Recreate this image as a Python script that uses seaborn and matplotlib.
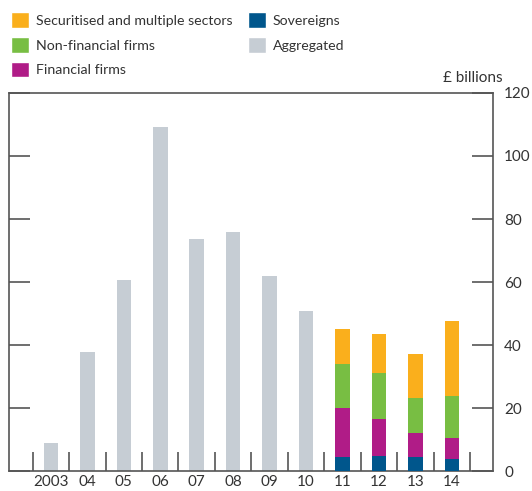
import numpy as np
import pandas as pd
import matplotlib
matplotlib.use("Agg")
import matplotlib.pyplot as plt
from matplotlib.patches import Patch
import seaborn as sns

# Years shown on the x axis
years = ["2003", "04", "05", "06", "07", "08", "09", "10", "11", "12", "13", "14"]

# Aggregated issuance (£ billions), 2003-2010
aggregated = [8.9, 37.8, 60.6, 109.2, 73.7, 75.9, 61.9, 50.8, np.nan, np.nan, np.nan, np.nan]

# Sector breakdown (£ billions), 2011-2014
sovereigns = [np.nan] * 8 + [4.5, 4.7, 4.5, 3.9]
financial = [np.nan] * 8 + [15.6, 11.7, 7.7, 6.6]
non_financial = [np.nan] * 8 + [14.0, 14.6, 11.1, 13.4]
securitised = [np.nan] * 8 + [10.9, 12.5, 13.7, 23.7]

y_ticks = [0, 20, 40, 60, 80, 100, 120]

c_sec = "#FAAF1C"
c_nonfin = "#78BE43"
c_fin = "#B01C87"
c_sov = "#00568C"
c_agg = "#C6CDD4"
c_axis = "#555555"
c_text = "#333333"

sns.set_theme(style="white")
plt.rcParams["font.family"] = ["Lato", "DejaVu Sans"]
plt.rcParams["text.color"] = c_text

df = pd.DataFrame({
    "year": years,
    "aggregated": aggregated,
    "sov": sovereigns,
    "fin": financial,
    "nonfin": non_financial,
    "sec": securitised,
})
# Cumulative heights for the stacked layers
df["cum_sov"] = df["sov"]
df["cum_fin"] = df["cum_sov"] + df["fin"]
df["cum_nonfin"] = df["cum_fin"] + df["nonfin"]
df["cum_sec"] = df["cum_nonfin"] + df["sec"]

fig = plt.figure(figsize=(5.32, 4.91), dpi=100)
ax = fig.add_axes([0.0169, 0.0407, 0.9098, 0.7699])

bar_w = 0.40
sns.barplot(data=df, x="year", y="aggregated", order=years, color=c_agg,
            width=bar_w, saturation=1, ax=ax, zorder=2, linewidth=0)
for col, colr, z in [("cum_sec", c_sec, 3), ("cum_nonfin", c_nonfin, 4),
                     ("cum_fin", c_fin, 5), ("cum_sov", c_sov, 6)]:
    sns.barplot(data=df, x="year", y=col, order=years, color=colr,
                width=bar_w, saturation=1, ax=ax, zorder=z, linewidth=0)

ax.set_xlim(-1.15, 12.13)
ax.set_ylim(0, 120)
ax.set_xlabel("")
ax.set_ylabel("")

for s in ax.spines.values():
    s.set_color(c_axis)
    s.set_linewidth(1.2)

# y ticks: inward on both sides, labels on the right
ax.set_yticks(y_ticks)
ax.yaxis.set_ticks_position("both")
ax.tick_params(axis="y", which="major", direction="in", length=15, width=1.2,
               color=c_axis, left=True, right=True, labelleft=False,
               labelright=True, labelsize=11, labelcolor=c_text, pad=8)

# x: labels at bar centres, separator ticks between years
ax.set_xticks(range(len(years)))
ax.set_xticklabels(years)
ax.set_xticks(np.arange(-0.5, len(years), 1.0), minor=True)
ax.tick_params(axis="x", which="major", length=0, labelsize=11,
               labelcolor=c_text, pad=3)
ax.tick_params(axis="x", which="minor", direction="in", length=14, width=1.2,
               color=c_axis, bottom=True, top=False)

fig.text(0.944, 0.826, "£ billions", ha="right", va="bottom", fontsize=11,
         color=c_text)

handles = [
    Patch(facecolor=c_sec, label="Securitised and multiple sectors"),
    Patch(facecolor=c_nonfin, label="Non-financial firms"),
    Patch(facecolor=c_fin, label="Financial firms"),
    Patch(facecolor=c_sov, label="Sovereigns"),
    Patch(facecolor=c_agg, label="Aggregated"),
]
fig.legend(handles=handles, loc="upper left", bbox_to_anchor=(0.002, 0.995),
           ncol=2, frameon=False, fontsize=10.2, handlelength=1.3,
           handleheight=1.3, handletextpad=0.45, columnspacing=1.1,
           labelspacing=0.66, borderaxespad=0.3)

fig.savefig("out.png", dpi=100)
